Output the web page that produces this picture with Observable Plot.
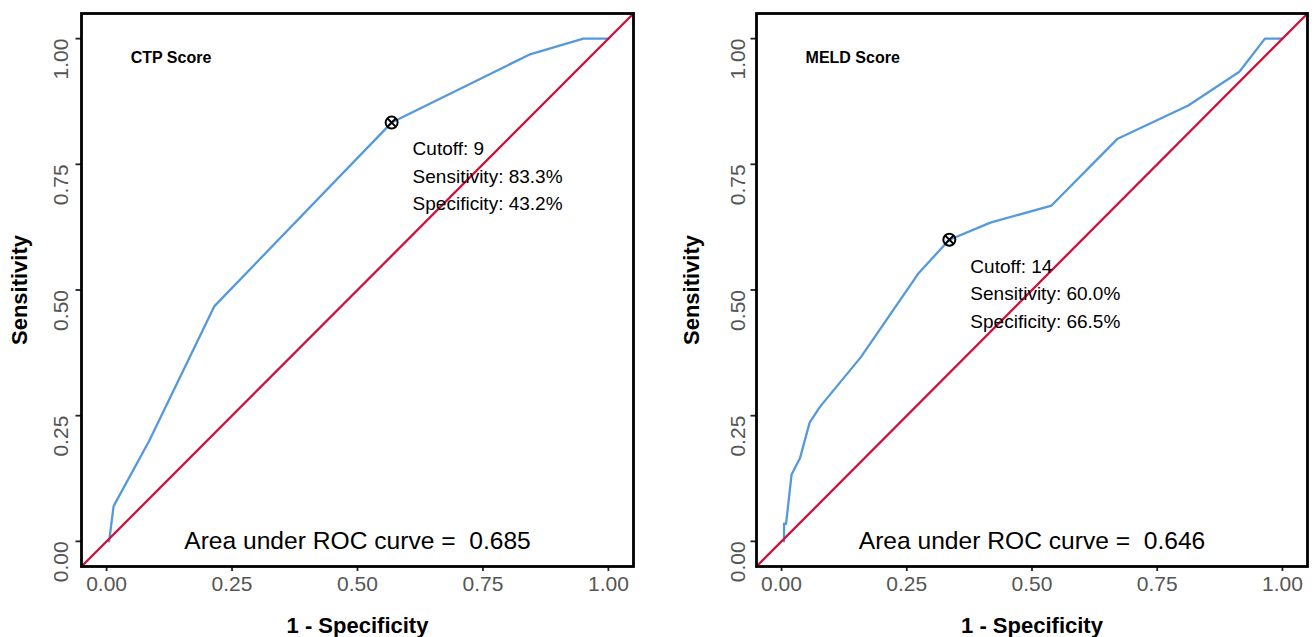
<!DOCTYPE html>
<html><head><meta charset="utf-8">
<script src="https://cdn.jsdelivr.net/npm/d3@7"></script>
<script src="https://cdn.jsdelivr.net/npm/@observablehq/plot@0.6"></script>
<style>
html,body{margin:0;padding:0;background:#fff;}
#wrap{display:flex;width:1314px;height:637px;overflow:hidden;}
#wrap > div, #wrap svg{display:block;}
</style></head><body><div id="wrap"></div>
<script>
// ---- data ----
const axisTicks = [0, 0.25, 0.5, 0.75, 1];
const panelTitles = ["CTP Score", "MELD Score"];
const ctpFpr = [0.005, 0.014, 0.085, 0.215, 0.568, 0.842, 0.95, 1.0];
const ctpTpr = [0.0, 0.07, 0.2, 0.468, 0.833, 0.968, 1.0, 1.0];
const meldFpr = [0.005, 0.005, 0.009, 0.02, 0.037, 0.056, 0.077, 0.158, 0.274, 0.335, 0.417, 0.539, 0.671, 0.812, 0.914, 0.965, 1.0];
const meldTpr = [0.0, 0.035, 0.035, 0.133, 0.166, 0.236, 0.268, 0.366, 0.534, 0.600, 0.634, 0.668, 0.801, 0.867, 0.934, 1.0, 1.0];
const cutoffs = [9, 14];
const sensitivities = [83.3, 60.0];
const specificities = [43.2, 66.5];
const aucs = [0.685, 0.646];
const diagonal = [-0.05, 1.05];
const xTitle = "1 - Specificity";
const yTitle = "Sensitivity";

const BLUE = "#5599dd";
const RED = "#d0103a";
const FONT = "'Liberation Sans', Arial, Helvetica, sans-serif";

function panel(i, fpr, tpr, layout) {
  const curve = fpr.map((x, k) => ({x, y: tpr[k]}));
  const diag = diagonal.map(v => ({x: v, y: v}));
  const pt = [{x: 1 - specificities[i] / 100, y: sensitivities[i] / 100,
    label: `Cutoff: ${cutoffs[i]}\nSensitivity: ${sensitivities[i].toFixed(1)}%\nSpecificity: ${specificities[i].toFixed(1)}%`}];
  const titleRow = [{x: 0.048, y: 0.962, label: panelTitles[i]}];
  const aucRow = [{x: 0.5, y: 0, label: "Area under ROC curve =\u00a0 " + aucs[i].toFixed(3)}];
  return Plot.plot({
    width: 657, height: 637,
    marginTop: 13, marginBottom: 71,
    marginLeft: layout.ml, marginRight: layout.mr,
    x: {domain: [-0.05, 1.05]},
    y: {domain: [-0.05, 1.05]},
    style: {fontFamily: FONT, background: "white", overflow: "visible"},
    marks: [
      Plot.line(curve, {x: "x", y: "y", stroke: BLUE, strokeWidth: 2.3}),
      Plot.line(diag, {x: "x", y: "y", stroke: RED, strokeWidth: 2.3}),
      Plot.dot(pt, {x: "x", y: "y", r: 6, stroke: "black", strokeWidth: 2, fill: "none"}),
      Plot.dot(pt, {x: "x", y: "y", r: 4, symbol: "times", stroke: "black", strokeWidth: 2}),
      Plot.text(pt, {x: "x", y: "y", text: "label", dx: 21, dy: 51.5, textAnchor: "start", lineAnchor: "middle", lineHeight: 1.45, fontSize: 19, fill: "black"}),
      Plot.text(titleRow, {x: "x", y: "y", text: "label", textAnchor: "start", lineAnchor: "middle", fontSize: 16, fontWeight: "bold", fill: "black"}),
      Plot.text(aucRow, {x: "x", y: "y", text: "label", textAnchor: "middle", lineAnchor: "middle", fontSize: 24.6, fill: "black"}),
      Plot.axisX({ticks: axisTicks, tickFormat: d3.format(".2f"), tickSize: 5, tickPadding: 5, fontSize: 21, stroke: "#222", fill: "#555", strokeWidth: 1.8, label: null}),
      Plot.axisY({ticks: axisTicks, tickFormat: d3.format(".2f"), tickSize: 5.5, tickPadding: layout.ypad, tickRotate: -90, textAnchor: "end", lineAnchor: "bottom", fontSize: 21, stroke: "#222", fill: "#555", strokeWidth: 1.8, label: null}),
      Plot.text([xTitle], {frameAnchor: "bottom", dy: 59, textAnchor: "middle", lineAnchor: "middle", fontSize: 22, fontWeight: "bold", fill: "black"}),
      Plot.text([yTitle], {frameAnchor: "left", dx: layout.ytdx, rotate: -90, textAnchor: "middle", lineAnchor: "middle", fontSize: 22, fontWeight: "bold", fill: "black"}),
      Plot.frame({stroke: "black", strokeWidth: 2.8})
    ]
  });
}

const wrap = document.getElementById("wrap");
wrap.append(panel(0, ctpFpr, ctpTpr, {ml: 81, mr: 24, ypad: 8, ytdx: -62}));
wrap.append(panel(1, meldFpr, meldTpr, {ml: 99, mr: 7, ypad: 6.5, ytdx: -64.5}));
</script></body></html>
